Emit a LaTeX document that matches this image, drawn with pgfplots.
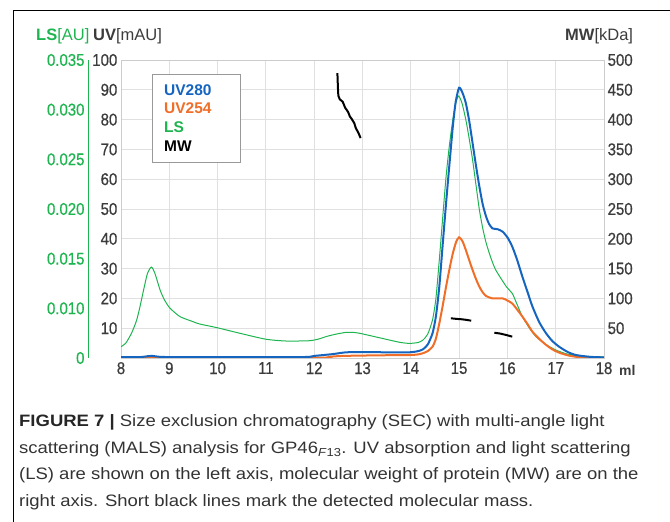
\documentclass[border=0pt]{standalone}
\usepackage{fontspec}
\setmainfont{Liberation Sans}
\newfontfamily\tickfont[FakeStretch=0.88, FakeBold=0.6]{Liberation Sans}
\newfontfamily\capfont[FakeStretch=1.12]{Liberation Sans}
\usepackage{pgfplots}
\pgfplotsset{compat=1.18}

\definecolor{uvblue}{HTML}{1565C0}
\definecolor{uvorange}{HTML}{F06E28}
\definecolor{lsgreen}{HTML}{1EB450}
\definecolor{gridgrey}{HTML}{E0E0E0}
\definecolor{framegrey}{HTML}{CCCCCC}
\definecolor{labelgrey}{HTML}{3C3C3C}
\definecolor{capgrey}{HTML}{333333}

\newcommand\lab{\tickfont\fontsize{17}{20}\selectfont}
\newcommand\ttl{\fontsize{16.5}{19}\selectfont}

% UV280 [mAU]
\pgfplotstableread{
ml    uv
8.00  0.3
8.40  0.3
8.55  0.6
8.65  0.7
8.80  0.4
9.20  0.3
11.70 0.3
12.00 0.7
12.38 1.3
12.66 1.9
13.08 2.0
13.50 1.9
13.97 1.9
14.15 2.3
14.25 2.9
14.35 4.5
14.45 8.3
14.52 14.0
14.59 23.9
14.66 38.0
14.73 51.9
14.80 65.0
14.87 77.7
14.93 86.0
15.00 90.7
15.07 89.0
15.14 85.5
15.21 79.5
15.28 72.0
15.35 64.5
15.42 57.5
15.49 51.5
15.56 47.4
15.62 45.0
15.69 43.5
15.80 43.2
15.90 42.4
16.00 40.5
16.10 37.4
16.20 33.0
16.31 27.3
16.42 22.0
16.52 17.2
16.66 12.0
16.80 8.3
16.93 5.7
17.07 3.8
17.25 2.0
17.42 1.0
17.70 0.4
18.00 0.2
}\uvA

% UV254 [mAU]
\pgfplotstableread{
ml    uv
8.00  0.0
12.00 0.1
12.30 0.4
12.60 0.7
13.35 0.9
13.97 1.0
14.15 1.2
14.25 1.6
14.35 2.3
14.45 3.8
14.52 6.5
14.59 11.6
14.66 17.5
14.73 23.9
14.80 29.8
14.87 35.1
14.94 39.0
15.00 40.5
15.07 39.2
15.14 36.2
15.21 32.8
15.28 29.5
15.35 26.5
15.42 23.9
15.49 22.0
15.56 20.8
15.69 20.0
15.90 20.0
16.00 19.3
16.10 18.3
16.20 16.3
16.31 13.9
16.42 11.3
16.52 8.8
16.66 6.4
16.80 4.4
16.93 2.9
17.07 1.8
17.25 0.9
17.42 0.4
17.70 0.1
18.00 0.0
}\uvB

% LS, drawn in the units of the UV scale
\pgfplotstableread{
ml    ls
8.00  3.8
8.10  5.0
8.22  8.4
8.32  12.5
8.39  17.0
8.47  23.0
8.55  28.5
8.63  30.5
8.70  28.5
8.81  22.8
8.90  19.5
9.01  16.8
9.22  13.9
9.49  12.2
9.63  11.4
9.98  10.2
10.46 8.3
11.00 6.3
11.42 5.7
11.90 5.8
12.10 6.4
12.25 7.2
12.45 8.0
12.66 8.6
12.80 8.6
12.94 8.3
13.35 6.8
13.76 5.3
13.97 4.9
14.15 5.2
14.25 6.0
14.35 8.0
14.45 12.8
14.52 20.0
14.59 32.9
14.66 47.0
14.73 60.8
14.80 71.5
14.87 79.9
14.93 85.5
14.99 87.9
15.06 85.5
15.14 79.9
15.21 73.5
15.28 66.4
15.35 58.0
15.42 49.7
15.49 43.5
15.56 38.6
15.66 33.5
15.76 29.5
15.98 23.9
16.10 21.7
16.20 18.0
16.31 13.9
16.45 10.2
16.59 7.2
16.80 4.5
17.00 2.7
17.20 1.5
17.42 0.8
17.70 0.5
18.00 0.4
}\lsdata

\begin{document}
\begin{tikzpicture}[x=1pt,y=1pt]
\path[use as bounding box] (0,0) rectangle (670,522);
\draw[line width=1pt] (13,0) -- (13,511) -- (670,511);

% main axis: UV and LS
\begin{axis}[
  at={(121pt,164pt)}, anchor=south west,
  width=483pt, height=298pt, scale only axis,
  xmin=8, xmax=18, ymin=0, ymax=100,
  xtick={8,...,18}, ytick={10,20,...,100},
  grid=major,
  major grid style={draw=gridgrey, line width=0.9pt},
  axis line style={draw=framegrey, line width=0.9pt},
  major tick length=0,
  tick label style={font=\lab, text=labelgrey},
  yticklabel style={inner xsep=3.5pt},
  xticklabel style={inner ysep=4pt},
  /pgf/number format/assume math mode=true,
]
\addplot[lsgreen, line width=1pt, smooth, tension=0.4] table[x=ml, y=ls] {\lsdata};
\addplot[uvorange, line width=2pt, smooth, tension=0.4] table[x=ml, y=uv] {\uvB};
\addplot[uvblue, line width=2pt, smooth, tension=0.4] table[x=ml, y=uv] {\uvA};
\end{axis}

% right axis: MW
\begin{axis}[
  at={(121pt,164pt)}, anchor=south west,
  width=483pt, height=298pt, scale only axis,
  xmin=8, xmax=18, ymin=0, ymax=500,
  axis x line=none, axis y line*=right,
  ytick={50,100,...,500},
  axis line style={-, draw=framegrey, line width=0.9pt},
  major tick length=0,
  tick label style={font=\lab, text=labelgrey},
  yticklabel style={inner xsep=3.5pt},
  /pgf/number format/assume math mode=true,
]
\addplot[black, line width=2pt, line join=round] coordinates {
  (12.480,478) (12.485,468) (12.490,455) (12.500,440) (12.530,434)
  (12.590,430) (12.640,420) (12.700,413) (12.740,405) (12.770,402)
  (12.830,394) (12.860,386) (12.900,380) (12.930,375) (12.960,369)};
\addplot[black, line width=2pt] coordinates {
  (14.83,66.6) (14.95,65.6) (15.05,65.0) (15.15,64.0) (15.25,62.6)};
\addplot[black, line width=2pt] coordinates {
  (15.73,42.4) (15.85,41.0) (15.98,38.5) (16.10,35.8)};
\end{axis}

% left axis: LS [AU]
\begin{axis}[
  at={(88pt,164pt)}, anchor=south west,
  width=10pt, height=298pt, scale only axis,
  xmin=0, xmax=1, ymin=0.005, ymax=0.035,
  axis x line=none, axis y line*=left,
  scaled y ticks=false,
  ytick={0.005,0.010,0.015,0.020,0.025,0.030,0.035},
  yticklabels={0,0.010,0.015,0.020,0.025,0.030,0.035},
  axis line style={-, draw=lsgreen, line width=1pt},
  major tick length=0,
  tick label style={font=\lab, text=lsgreen},
]
\end{axis}

% titles of the scales
\node[anchor=base west, inner sep=0, font=\ttl, text=lsgreen] at (36,481) {\textbf{LS}[AU]};
\node[anchor=base west, inner sep=0, font=\ttl, text=labelgrey] at (93,481) {\textbf{UV}[mAU]};
\node[anchor=base west, inner sep=0, font=\ttl, text=labelgrey] at (565,481) {\textbf{MW}[kDa]};
\node[anchor=base west, inner sep=0, font=\bfseries\fontsize{14}{16}\selectfont, text=labelgrey] at (619,146) {ml};

% legend
\draw[draw=gray!80, fill=white, line width=0.8pt] (152,360) rectangle (240,448);
\begin{scope}[every node/.style={anchor=base west, inner sep=0, font=\bfseries\fontsize{15.5}{18}\selectfont}]
\node[text=uvblue] at (164,426) {UV280};
\node[text=uvorange] at (164,408) {UV254};
\node[text=lsgreen] at (164,389) {LS};
\node[text=black] at (164,370) {MW};
\end{scope}

% caption
\begin{scope}[every node/.style={anchor=base west, inner sep=0, font=\capfont\fontsize{16.5}{19}\selectfont, text=capgrey}]
\node at (19,95) {\textcolor{black!85}{\textbf{FIGURE 7 |}} Size exclusion chromatography (SEC) with multi-angle light};
\node at (19,68.5) {scattering (MALS) analysis for GP46\textsubscript{\textit{F}13}. UV absorption and light scattering};
\node at (19,42) {(LS) are shown on the left axis, molecular weight of protein (MW) are on the};
\node at (19,15) {right axis. Short black lines mark the detected molecular mass.};
\end{scope}
\end{tikzpicture}
\end{document}
